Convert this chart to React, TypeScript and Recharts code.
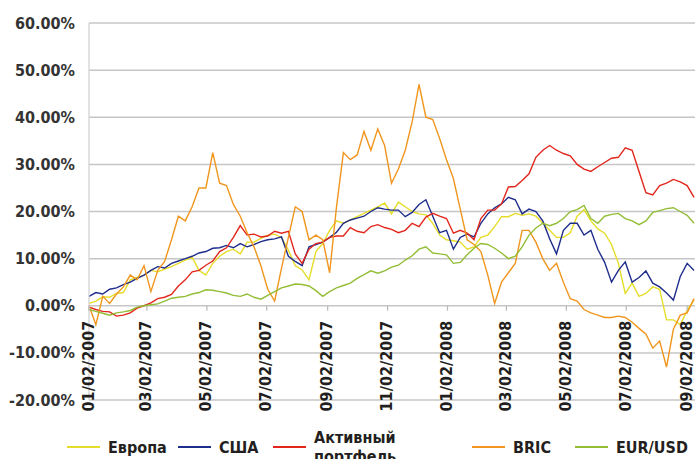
import React from "react";
import { LineChart, Line, XAxis, YAxis, CartesianGrid } from "recharts";

// weekly samples, day 0 = 01/02/2007
const days = Array.from({ length: 89 }, (_, i) => i * 7);

const tickDays = [0, 59, 120, 181, 243, 304, 365, 425, 486, 547, 609];
const tickLabels = [
  "01/02/2007",
  "03/02/2007",
  "05/02/2007",
  "07/02/2007",
  "09/02/2007",
  "11/02/2007",
  "01/02/2008",
  "03/02/2008",
  "05/02/2008",
  "07/02/2008",
  "09/02/2008",
];
const yTicks = [-20, -10, 0, 10, 20, 30, 40, 50, 60];

const europe = [
  0.5, 1, 1.9, 1.8, 2.6, 2.8, 5.5, 6, 6.5, 7.5,
  7.2, 7.8, 8.3, 9, 9.7, 10.3, 7.5, 6.5, 9, 10.5,
  11.5, 12, 11, 13.5, 13.5, 14.3, 15, 15.2, 14.5, 11.8,
  8.5, 7.6, 5.5, 11.5, 13.2, 16, 18, 17.5, 18.2, 18.9,
  19.6, 20.3, 21, 21.8, 19.5, 22, 21, 20, 19.5, 19.3,
  17.5, 15, 14, 13.8, 13.5, 12, 12.5, 14.5, 15, 16.8,
  18.9, 18.9, 19.6, 19.2, 19.5, 19, 17.5, 16, 14.5, 14.5,
  15.5, 19, 20.4, 18, 16.3, 15.4, 13, 9, 2.6, 4.8,
  2, 2.6, 4, 3.5, -3, -3, -4, -1, 1.2,
];
const usa = [
  2, 2.8, 2.5, 3.5, 3.8, 4.5, 5, 5.8, 6.5, 7.5,
  8.3, 8, 9, 9.5, 10, 10.5, 11.2, 11.5, 12.2, 12.3,
  12.8, 12.3, 13.2, 12.5, 13, 13.6, 14, 14.2, 14.6, 10.5,
  9.4, 8.5, 12.5, 13, 13.5, 14.5, 15.6, 17.5, 18.2, 18.6,
  19, 20, 20.8, 20.5, 20.3, 20.3, 18.9, 19.8, 21.5, 22.5,
  19, 15.5, 16, 12, 14.5, 15.2, 14.6, 17.5, 19.5, 20.8,
  21.6, 23, 22.5, 19.5, 20.5, 20, 18, 14.2, 11, 16,
  17.5, 17.5, 15, 16, 12, 9.2, 5, 7.5, 9.3, 5,
  6, 7.4, 4.8, 4, 2.7, 1.2, 6.2, 9, 7.5,
];
const active = [
  -0.3, -0.8, -1.2, -1.3, -2.2, -2, -1.5, -0.5, 0, 0.6,
  1.5, 1.8, 2.4, 4.2, 5.5, 7.2, 7.5, 8.6, 9.5, 11.5,
  12.3, 14.5, 17, 15, 15.2, 14.6, 14.8, 15.8, 15.4, 15.8,
  11, 9, 12, 13.2, 13.5, 14.5, 14.8, 14.8, 16.6, 15.8,
  15.5, 16.8, 17.2, 16.6, 16.2, 15.5, 16, 17.5, 16.8, 18.8,
  19.6, 19, 18.5, 15.4, 16, 15.4, 14, 18.5, 20.3, 20.3,
  21.6, 25.2, 25.3, 26.6, 28, 31.5, 33, 34, 33, 32.3,
  31.8, 30, 29, 28.5, 29.5, 30.4, 31.3, 31.5, 33.5, 33,
  28.5, 24, 23.5, 25.5, 26, 26.8, 26.3, 25.5, 23,
];
const bric = [
  0, -4, 2, 0.5, 2.5, 4, 6.5, 5.5, 8.5, 3,
  7.5, 9.4, 14, 19, 18, 21, 25, 25, 32.5, 26,
  25.5, 21.5, 19, 15.5, 12.5, 8.5, 3.5, 1, 8, 14.5,
  21, 20, 14, 15, 14, 7, 21, 32.5, 31, 32,
  37, 33, 37.5, 34, 26, 29, 33, 39, 47, 40,
  39.5, 35.5, 31, 27, 20.5, 14, 13, 11.5, 6.5, 0.5,
  5, 7, 9, 16, 16, 13.5, 10, 7.5, 9, 5,
  1.5, 1, -0.8, -1.5, -2, -2.5, -2.5, -2.2, -2.5, -3.5,
  -4.8, -6, -9, -7.5, -13, -5, -2, -1.5, 1.5,
];
const eurusd = [
  -0.8, -1.2, -1.6, -2, -1.5, -1.3, -1, -0.3, 0, 0.2,
  0.4, 1, 1.6, 1.8, 2, 2.5, 2.8, 3.4, 3.3, 3,
  2.7, 2.2, 2, 2.5, 1.8, 1.4, 2.2, 3, 3.8, 4.2,
  4.6, 4.5, 4.2, 3.2, 2, 3, 3.8, 4.3, 4.8, 5.8,
  6.6, 7.4, 6.9, 7.4, 8.2, 8.6, 9.7, 10.6, 12, 12.5,
  11.2, 11, 10.8, 9, 9.2, 10.8, 12.2, 13.2, 13, 12.2,
  11.2, 10, 10.5, 12.5, 15, 16.5, 17.5, 17, 17.5, 18.5,
  20, 20.4, 21.3, 18.5, 17.5, 19, 19.4, 19.6, 18.5, 18,
  17.2, 18, 19.8, 20.2, 20.6, 20.8, 20, 19.2, 17.5,
];

const series = [
  { key: "europe", name: "Европа", color: "#e6dd2a" },
  { key: "usa", name: "США", color: "#1f2d8c" },
  { key: "active", name: "Активный портфель", color: "#e2261c" },
  { key: "bric", name: "BRIC", color: "#f0961e" },
  { key: "eurusd", name: "EUR/USD", color: "#92bd35" },
];

const data = days.map((day, i) => ({
  day,
  europe: europe[i],
  usa: usa[i],
  active: active[i],
  bric: bric[i],
  eurusd: eurusd[i],
}));

const W = 695;
const H = 459;
const TOP = 23;
const X_AXIS_H = 59;
const Y_MIN = -20;
const Y_MAX = 60;
const FONT = "'DejaVu Sans Condensed', 'DejaVu Sans', sans-serif";

// y of the 0% line, from the value range and plot box
const plotH = H - TOP - X_AXIS_H;
const zeroY = TOP + (plotH * Y_MAX) / (Y_MAX - Y_MIN);

const XTick = (props: any) => {
  const { x, payload } = props;
  const label = tickLabels[tickDays.indexOf(payload.value)];
  const ty = zeroY + 15;
  return (
    <g>
      <line x1={x} x2={x} y1={zeroY} y2={zeroY + 5} stroke="#b8b8b8" strokeWidth={1.2} />
      <text
        x={x - 1}
        y={ty}
        transform={`rotate(-90 ${x - 1} ${ty})`}
        textAnchor="end"
        dominantBaseline="central"
        fontFamily={FONT}
        fontStretch="condensed"
        fontWeight="bold"
        fontSize={16}
        fill="#231f20"
      >
        {label}
      </text>
    </g>
  );
};

const YTick = (props: any) => {
  const { x, y, payload } = props;
  return (
    <text
      x={x}
      y={y}
      textAnchor="end"
      dominantBaseline="central"
      fontFamily={FONT}
      fontStretch="condensed"
      fontWeight="bold"
      fontSize={16}
      fill="#333333"
    >
      {payload.value.toFixed(2) + "%"}
    </text>
  );
};

const legendLeft = [67, 178, 273, 472, 575];

const ChartLegend = () => (
  <div style={{ position: "absolute", left: 0, top: 0, width: W, height: H, pointerEvents: "none" }}>
    {series.map((s, i) => {
      const lx = legendLeft[i];
      const words = s.name.split(" ");
      return (
        <React.Fragment key={s.key}>
          <div
            style={{
              position: "absolute",
              left: lx,
              top: 446,
              width: 33,
              height: 1.5,
              background: s.color,
            }}
          />
          <div
            style={{
              position: "absolute",
              left: lx + 41,
              top: 447 - (words.length * 19) / 2,
              fontFamily: FONT,
              fontStretch: "condensed",
              fontWeight: "bold",
              fontSize: 16,
              lineHeight: "19px",
              color: "#231f20",
              whiteSpace: "nowrap",
            }}
          >
            {words.map((w) => (
              <div key={w}>{w}</div>
            ))}
          </div>
        </React.Fragment>
      );
    })}
  </div>
);

export default function App() {
  return (
    <div style={{ position: "absolute", left: 0, top: 0, width: W, height: H, background: "#fff", overflow: "hidden" }}>
      <LineChart width={W} height={H} data={data} margin={{ top: TOP, right: 0, bottom: 0, left: 0 }}>
        <CartesianGrid vertical={false} stroke="#c6c6c6" strokeWidth={1.5} />
        <XAxis
          dataKey="day"
          type="number"
          domain={[0, 617]}
          ticks={tickDays}
          interval={0}
          height={X_AXIS_H}
          axisLine={false}
          tickLine={false}
          tick={<XTick />}
        />
        <YAxis
          type="number"
          domain={[Y_MIN, Y_MAX]}
          ticks={yTicks}
          width={89}
          tickMargin={8}
          axisLine={{ stroke: "#cfcfcf", strokeWidth: 1.2 }}
          tickLine={false}
          tick={<YTick />}
        />
        {series.map((s) => (
          <Line
            key={s.key}
            type="linear"
            dataKey={s.key}
            name={s.name}
            stroke={s.color}
            strokeWidth={1.4}
            dot={false}
            isAnimationActive={false}
          />
        ))}
      </LineChart>
      <ChartLegend />
    </div>
  );
}
